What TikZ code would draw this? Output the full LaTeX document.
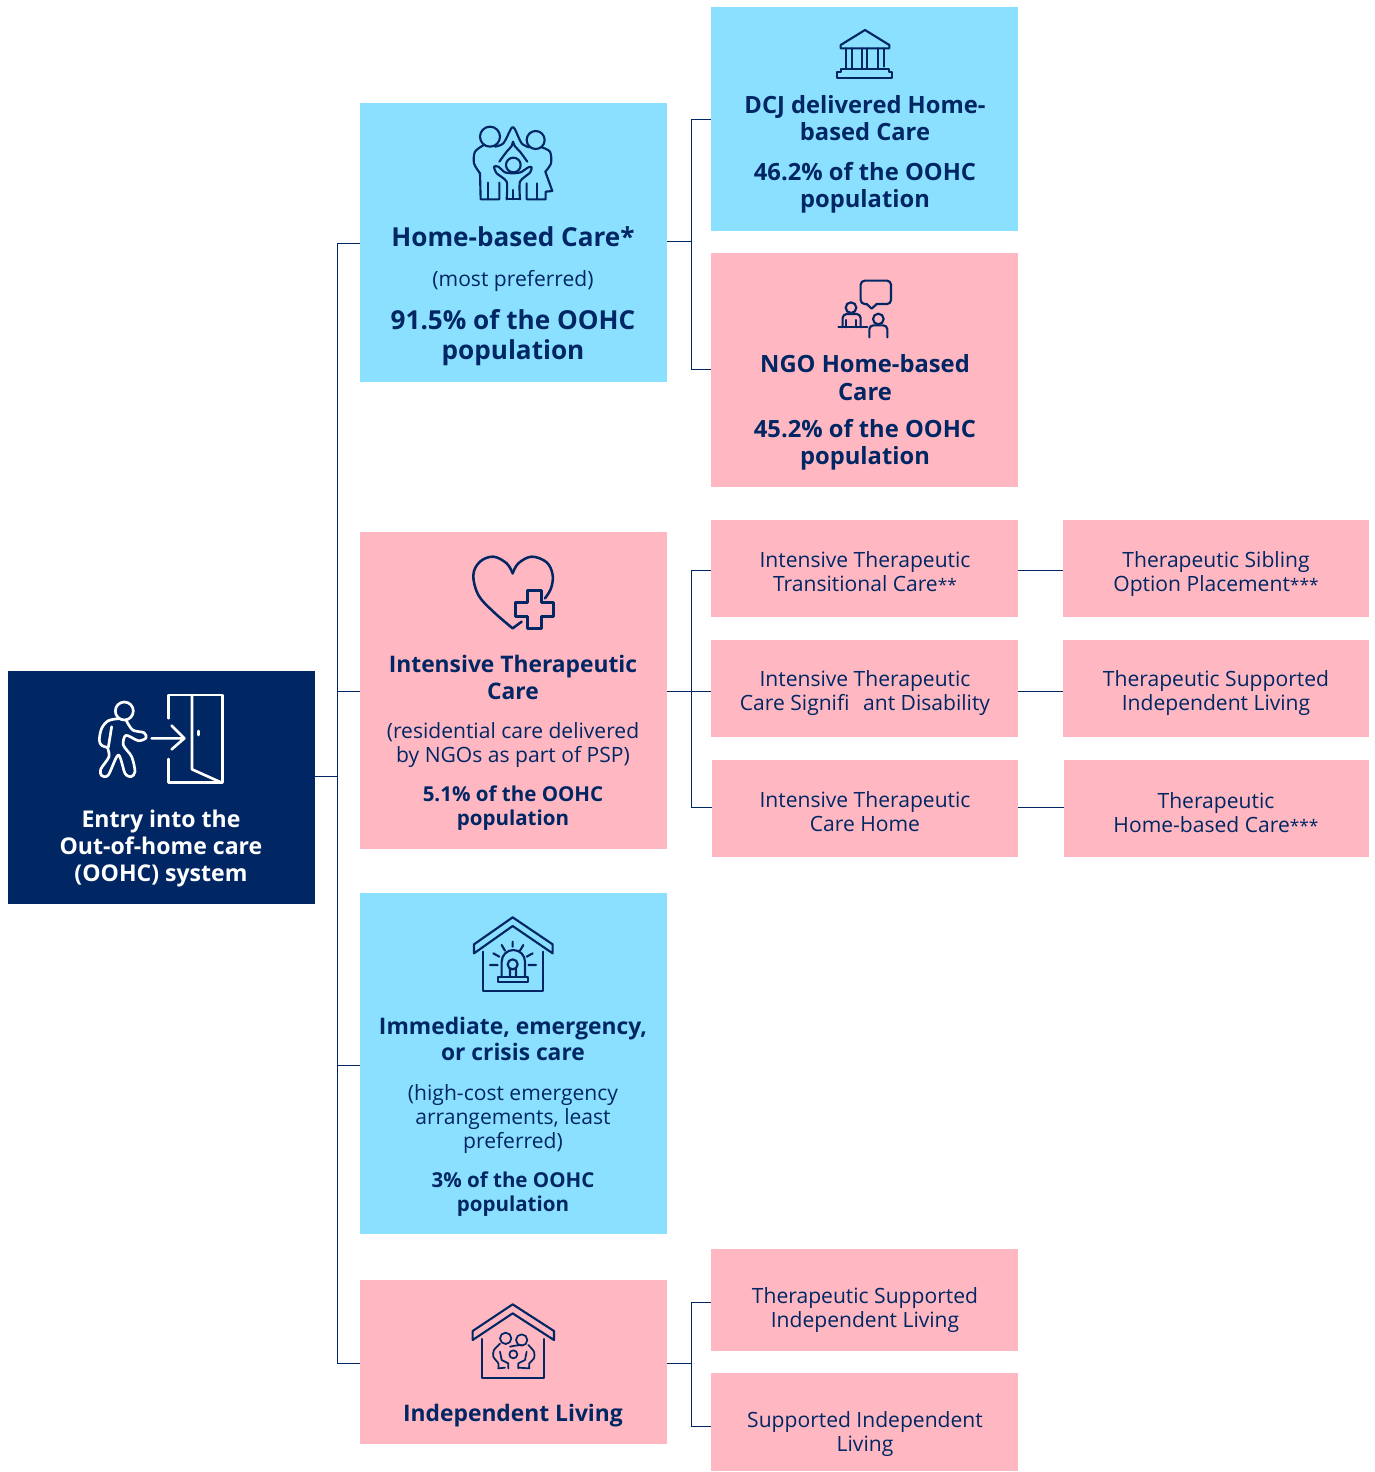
\documentclass[tikz,border=0pt]{standalone}
\usepackage{fontspec}
\setmainfont{Open Sans}
\definecolor{navy}{HTML}{002664}
\definecolor{skyb}{HTML}{8CE0FF}
\definecolor{pinkb}{HTML}{FFB8C1}
\newcommand\bx[6]{\node[inner sep=0pt,outer sep=0pt,fill=#6,minimum width={(#4-#2)*0.75pt},minimum height={(#5-#3)*0.75pt}] (#1) at ({(#2+#4)/2},{(#3+#5)/2}) {};}
\newcommand\stars[1]{{\fontsize{13}{18}\selectfont #1}}
\tikzset{
 tx/.style={text=navy,align=center,inner sep=0pt},
 hhuge/.style={tx,font=\fontsize{19.6}{22.5}\selectfont\bfseries},
 hbig/.style={tx,font=\fontsize{17.8}{20.4}\selectfont\bfseries},
 hmid/.style={tx,font=\fontsize{17.1}{20}\selectfont\bfseries},
 hsmall/.style={tx,font=\fontsize{15.4}{18}\selectfont\bfseries},
 reg/.style={tx,font=\fontsize{15.8}{18}\selectfont},
 wline/.style={draw=white,line width=2pt,line join=round,line cap=round},
 nline/.style={draw=navy,line width=1.6pt,line join=round,line cap=round},
 conn/.style={draw=navy,line width=0.75pt},
 iconz/.style={x=0.25pt,y=-0.25pt},
}
\begin{document}
\begin{tikzpicture}[x=0.75pt,y=-0.75pt]
\useasboundingbox (0,0) rectangle (1375,1472);
% boxes
\bx{root}{8}{671}{315}{904}{navy}
\bx{hbc}{360}{103}{667}{382}{skyb}
\bx{dcj}{711}{7}{1018}{231}{skyb}
\bx{ngo}{711}{253}{1018}{487}{pinkb}
\bx{itc}{360}{532}{667}{849}{pinkb}
\bx{ittc}{711}{520}{1018}{617}{pinkb}
\bx{itcsd}{711}{640}{1018}{737}{pinkb}
\bx{itch}{712}{760}{1018}{857}{pinkb}
\bx{tsop}{1063}{520}{1369}{617}{pinkb}
\bx{tsil}{1063}{640}{1369}{737}{pinkb}
\bx{thbc}{1064}{760}{1369}{857}{pinkb}
\bx{iecc}{360}{893}{667}{1234}{skyb}
\bx{il}{360}{1280}{667}{1444}{pinkb}
\bx{ilt}{711}{1249}{1018}{1351}{pinkb}
\bx{ils}{711}{1373}{1018}{1471}{pinkb}
% connector junctions
\coordinate (busa) at (337,776);
\coordinate (busb) at (691,241);
\coordinate (busc) at (691,691);
\coordinate (busd) at (691,1363);
\coordinate (ja) at (337,243);
\coordinate (jb) at (337,691);
\coordinate (jc) at (337,1065);
\coordinate (jd) at (337,1363);
\coordinate (y1) at (691,119);
\coordinate (y2) at (691,369);
\coordinate (y3) at (691,570);
\coordinate (y4) at (691,807);
\coordinate (y5) at (691,1302);
\coordinate (y6) at (691,1426);
\draw[conn] (root.east |- busa) -- (busa);
\draw[conn] (ja) -- (jd);
\draw[conn] (ja) -- (hbc.west |- ja);
\draw[conn] (jb) -- (itc.west |- jb);
\draw[conn] (jc) -- (iecc.west |- jc);
\draw[conn] (jd) -- (il.west |- jd);
\draw[conn] (hbc.east |- busb) -- (busb);
\draw[conn] (y1) -- (y2);
\draw[conn] (y1) -- (dcj.west |- y1);
\draw[conn] (y2) -- (ngo.west |- y2);
\draw[conn] (itc.east |- busc) -- (itcsd.west |- busc);
\draw[conn] (y3) -- (y4);
\draw[conn] (y3) -- (ittc.west |- y3);
\draw[conn] (y4) -- (itch.west |- y4);
\draw[conn] (ittc.east |- y3) -- (tsop.west |- y3);
\draw[conn] (itcsd.east |- busc) -- (tsil.west |- busc);
\draw[conn] (itch.east |- y4) -- (thbc.west |- y4);
\draw[conn] (il.east |- busd) -- (busd);
\draw[conn] (y5) -- (y6);
\draw[conn] (y5) -- (ilt.west |- y5);
\draw[conn] (y6) -- (ils.west |- y6);
% texts
\node[hmid,font=\fontsize{17.3}{20.5}\selectfont\bfseries,text=white] (t1) at (161,848.5) {Entry into the\\Out-of-home care\\(OOHC) system};
\node[hhuge] (t2) at (513,237) {Home-based Care*};
\node[reg] (t3) at (513,280.5) {(most preferred)};
\node[hhuge] (t4) at (513,337.5) {91.5\% of the OOHC\\population};
\node[hbig] (t5) at (865,118) {DCJ delivered Home-\\based Care};
\node[hbig] (t6) at (865,187.5) {46.2\% of the OOHC\\population};
\node[hbig] (t7) at (865,377.5) {NGO Home-based\\Care};
\node[hbig] (t8) at (865,445) {45.2\% of the OOHC\\population};
\node[hmid] (t9) at (513,677.5) {Intensive Therapeutic\\Care};
\node[reg] (t10) at (513,745.5) {(residential care delivered\\by NGOs as part of PSP)};
\node[hsmall] (t11) at (513,808) {5.1\% of the OOHC\\population};
\node[reg] (t12) at (865,572) {Intensive Therapeutic\\Transitional Care\stars{**}};
\node[reg] (t13) at (1216,574) {Therapeutic Sibling\\Option Placement\stars{***}};
\node[reg] (t14) at (865,693.5) {Intensive Therapeutic\\Care Signifi\ \hspace{2pt}\ ant Disability};
\node[reg] (t15) at (1216,693.5) {Therapeutic Supported\\Independent Living};
\node[reg] (t16) at (865,812) {Intensive Therapeutic\\Care Home};
\node[reg] (t17) at (1216,812.5) {Therapeutic\\Home-based Care\stars{***}};
\node[hmid] (t18) at (513,1039) {Immediate, emergency,\\or crisis care};
\node[reg] (t19) at (513,1119.5) {(high-cost emergency\\arrangements, least\\preferred)};
\node[hsmall] (t20) at (513,1194) {3\% of the OOHC\\population};
\node[hmid] (t21) at (513,1416) {Independent Living};
\node[reg] (t22) at (865,1310.5) {Therapeutic Supported\\Independent Living};
\node[reg] (t23) at (865,1434.5) {Supported Independent\\Living};
% icons
\begin{scope}[shift={(0,660)},iconz]
\draw[wline] (373,153) circle (27);
\draw[wline] plot[smooth,tension=.55] coordinates {(356,176)(325,182)(305,205)(298,240)(305,256)(322,262)};
\draw[wline] (335,200) -- (325,262);
\draw[wline] plot[smooth,tension=.5] coordinates {(322,262)(327,290)(302,328)(305,347)(325,345)(355,285)(375,340)(393,350)(405,335)(395,290)(370,255)(378,226)(415,242)(438,234)(432,218)(398,210)(378,180)};
\draw[wline] (455,235) -- (553,235) (515,197) -- (553,235) -- (515,268);
\draw[wline] (505,175) -- (505,105) -- (668,105) -- (668,368) -- (505,368) -- (505,297);
\draw[wline] (576,105) -- (576,328) -- (665,368);
\draw[wline] (595,213) -- (595,225);
\end{scope}
\begin{scope}[shift={(440,110)},iconz]
\draw[nline] (150,80) circle (30) (287,90) circle (27) (220,165) circle (22);
\draw[nline] plot[smooth,tension=.5] coordinates {(165,110)(190,100)(212,58)(218,52)(225,58)(245,100)(268,112)};
\draw[nline] plot[smooth,tension=.5] coordinates {(130,106)(105,125)(102,160)(120,190)};
\draw[nline] (120,190) -- (122,268) -- (178,268) -- (178,218);
\draw[nline] (145,218) -- (145,268);
\draw[nline] plot[smooth,tension=.5] coordinates {(305,112)(330,125)(333,160)(316,185)};
\draw[nline] (316,185) -- (337,243) -- (317,245) -- (317,268) -- (260,268) -- (260,220);
\draw[nline] (290,220) -- (290,268);
\draw[nline] plot[smooth,tension=.5] coordinates {(178,155)(200,125)(215,108)(219,95)(224,108)(240,125)(262,155)};
\draw[nline] plot[smooth,tension=.4] coordinates {(200,268)(200,215)(170,190)(162,170)(175,170)(195,187)(220,190)(242,187)(265,172)(275,172)(270,188)(240,215)(240,268)};
\draw[nline] (200,268) -- (240,268) (220,240) -- (220,268);
\end{scope}
\begin{scope}[shift={(800,15)},iconz]
\draw[nline] (122,90) -- (195,45) -- (268,90) -- (268,100) -- (122,100) -- cycle;
\draw[nline] (138,100) -- (138,160) (155,100) -- (155,160) (185,100) -- (185,160) (202,100) -- (202,160) (235,100) -- (235,160) (252,100) -- (252,155);
\draw[nline] (122,162) -- (268,162) -- (268,172) -- (277,172) -- (277,188) -- (112,188) -- (112,172) -- (122,172) -- cycle;
\end{scope}
\begin{scope}[shift={(810,270)},iconz]
\draw[nline,rounded corners=3pt] (170,102) -- (152,102) -- (152,32) -- (243,32) -- (243,102) -- (200,102);
\draw[nline] (170,102) -- (185,116) -- (200,102);
\draw[nline] (123,113) circle (16) (205,147) circle (16);
\draw[nline,rounded corners=3pt] (98,172) -- (98,132) -- (152,132) -- (152,172);
\draw[nline] (108,150) -- (108,172) (138,150) -- (138,172) (85,172) -- (172,172);
\draw[nline,rounded corners=3pt] (178,202) -- (178,166) -- (232,166) -- (232,202);
\end{scope}
\begin{scope}[shift={(450,545)},iconz,nline/.append style={line width=1.9pt}]
\draw[nline] plot[smooth,tension=.6] coordinates {(188,85)(170,55)(130,35)(90,50)(70,90)(85,150)(130,200)(188,250)} -- (215,230);
\draw[nline] plot[smooth,tension=.6] coordinates {(188,85)(205,55)(245,35)(290,52)(308,90)(303,130)(285,160)};
\draw[nline] (232,137) -- (275,137) -- (275,172) -- (310,172) -- (310,215) -- (275,215) -- (275,250) -- (232,250) -- (232,215) -- (197,215) -- (197,172) -- (232,172) -- cycle;
\end{scope}
\begin{scope}[shift={(460,905)},iconz]
\draw[nline] (158,37) -- (278,118) -- (278,145) -- (158,63) -- (42,145) -- (42,118) -- cycle;
\draw[nline] (68,140) -- (68,258) -- (250,258) -- (250,140);
\draw[nline] (115,215) rectangle (205,232);
\draw[nline] (125,215) -- (125,170) arc[start angle=180,end angle=360,radius=35] -- (195,215);
\draw[nline] (158,178) circle (15) (150,192) -- (150,215) (168,192) -- (168,215);
\draw[nline] (158,110) -- (158,125) (125,120) -- (135,137) (190,120) -- (180,137) (100,145) -- (118,155) (218,145) -- (200,155) (90,180) -- (113,180) (205,180) -- (228,180);
\end{scope}
\begin{scope}[shift={(460,1295)},iconz]
\draw[nline] (158,28) -- (282,108) -- (282,135) -- (158,55) -- (38,135) -- (38,108) -- cycle;
\draw[nline] (65,132) -- (65,248) -- (253,248) -- (253,132);
\draw[nline,line width=1.3pt] (137,130) circle (17) (185,135) circle (17) (160,178) circle (12);
\draw[nline,line width=1.3pt] plot[smooth,tension=.5] coordinates {(120,146)(102,165)(100,185)(115,205)(115,220)};
\draw[nline,line width=1.3pt] plot[smooth,tension=.5] coordinates {(205,150)(222,170)(222,190)(208,205)(208,220)};
\draw[nline,line width=1.3pt] plot[smooth,tension=.5] coordinates {(150,155)(165,152)(185,150)};
\draw[nline,line width=1.3pt] (115,220) -- (135,218) (175,218) -- (208,220) (120,170) -- (125,195) -- (145,205) (200,170) -- (195,195) -- (175,205) (145,205) -- (145,220) (175,205) -- (175,220);
\end{scope}
\end{tikzpicture}
\end{document}
